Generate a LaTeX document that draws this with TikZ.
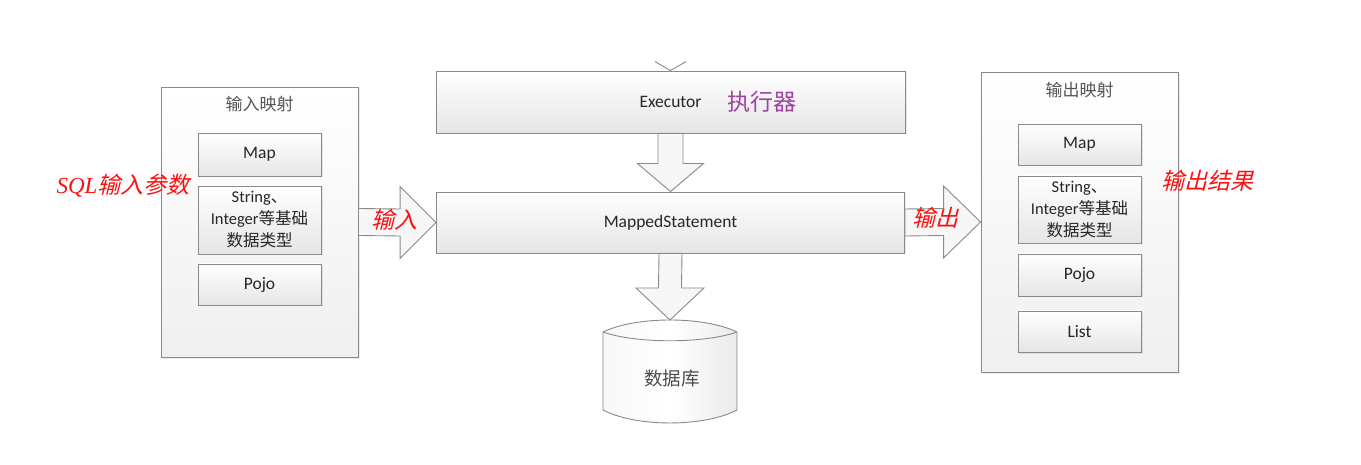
\documentclass[tikz,border=0pt]{standalone}
\usepackage{fontspec}
\setmainfont{Carlito}
\newfontfamily\cjk{Noto Sans CJK SC}
\newfontfamily\cjkit[FakeSlant=0.25]{Noto Sans CJK SC}
\newfontfamily\serifit{Liberation Serif}
\usetikzlibrary{shadows,calc}
\definecolor{edge}{HTML}{8A8A8A}
\definecolor{lblred}{HTML}{FF1010}
\definecolor{lblpurple}{HTML}{A040A0}
\definecolor{titlegray}{HTML}{555555}
\begin{document}
\begin{tikzpicture}[x=1pt,y=-1pt,
  box/.style={draw=edge, line width=0.9pt, top color=white, bottom color=black!10,
    drop shadow={opacity=0.18,shadow xshift=1.5pt,shadow yshift=-1.5pt},
    inner sep=0pt, font=\fontsize{17.5}{20}\selectfont, text=black!85, align=center},
  container/.style={draw=edge, line width=0.9pt, top color=white, bottom color=black!6,
    drop shadow={opacity=0.15,shadow xshift=1.5pt,shadow yshift=-1.5pt}, inner sep=0pt},
  inbox/.style={box, minimum width=123pt},
  blockarrow/.style={draw=edge, line width=0.9pt, fill=black!3, line join=miter},
  title/.style={font=\cjk\fontsize{17}{20}\selectfont, text=titlegray},
  redlbl/.style={font=\cjkit\fontsize{23}{26}\selectfont, text=lblred},
  strtext/.style={font=\fontsize{16.5}{22}\selectfont},
]
\useasboundingbox (0,0) rectangle (1361,465);
\fill[white] (0,0) rectangle (1361,465);

% left container
\node[container, minimum width=197pt, minimum height=270pt] (lin) at (259.5,222) {};
\node[title] (lintitle) at (259.5,104) {输入映射};
\node[inbox, minimum height=43pt] (lmap) at (259.5,154.5) {Map};
\node[inbox, minimum height=68pt, strtext] (lstr) at (259.5,220) {String{\cjk 、}\\Integer{\cjk 等基础}\\{\cjk 数据类型}};
\node[inbox, minimum height=41pt] (lpojo) at (259.5,284.5) {Pojo};

% right container
\node[container, minimum width=197pt, minimum height=300pt] (rout) at (1079.5,222) {};
\node[title] (routtitle) at (1079.5,90) {输出映射};
\node[inbox, minimum height=41pt] (rmap) at (1079.5,144.5) {Map};
\node[inbox, minimum height=67pt, strtext] (rstr) at (1079.5,209.5) {String{\cjk 、}\\Integer{\cjk 等基础}\\{\cjk 数据类型}};
\node[inbox, minimum height=42pt] (rpojo) at (1079.5,275) {Pojo};
\node[inbox, minimum height=41pt] (rlist) at (1079.5,331.5) {List};

% executor and mapped statement
\node[box, minimum width=469pt, minimum height=62pt] (exec) at (670.5,102) {Executor};
\node[font=\cjk\fontsize{23}{26}\selectfont, text=lblpurple] (execlbl) at (762,102) {执行器};
\node[box, minimum width=468pt, minimum height=61pt] (ms) at (670.5,222.5) {MappedStatement};

% incoming arrow tip at top (cropped)
\coordinate (toptip) at (exec.north);
\draw[edge, line width=0.9pt] ($(toptip)+(-15.5,-9)$) -- (toptip) -- ($(toptip)+(15.5,-9)$);

% down arrow exec -> ms
\draw[blockarrow] ($(exec.south)+(-12.5,0)$) -- ($(exec.south)+(12.5,0)$) -- ($(ms.north)+(12.5,-28)$)
  -- ($(ms.north)+(33,-28)$) -- (ms.north) -- ($(ms.north)+(-33,-28)$) -- ($(ms.north)+(-12.5,-28)$) -- cycle;

% database cylinder
\coordinate (dbtop) at (670,320);
\draw[edge, line width=0.9pt, left color=black!3, right color=black!8, middle color=white]
  (603,332) .. controls (636,316) and (704,316) .. (737,332) -- (737,410)
  .. controls (704,427.3) and (636,427.3) .. (603,410) -- cycle;
\draw[edge, line width=0.9pt] (603,332) .. controls (636,343.7) and (704,343.7) .. (737,332);
\node[font=\cjk\fontsize{18.5}{22}\selectfont, text=black!70] (db) at (672,379) {数据库};

% down arrow ms -> db
\draw[blockarrow] ($(ms.south)+(-11.5,0)$) -- ($(ms.south)+(11.5,0)$) -- ($(dbtop)+(11.5,-32)$)
  -- ($(dbtop)+(34,-32)$) -- (dbtop) -- ($(dbtop)+(-34,-32)$) -- ($(dbtop)+(-11.5,-32)$) -- cycle;

% input arrow lin -> ms
\draw[blockarrow] ($(lin.east)+(0,-13.5)$) -- ($(ms.west)+(-36,-13.5)$) -- ($(ms.west)+(-36,-36)$)
  -- (ms.west) -- ($(ms.west)+(-36,36)$) -- ($(ms.west)+(-36,13.5)$) -- ($(lin.east)+(0,13.5)$) -- cycle;
% output arrow ms -> rout
\draw[blockarrow] ($(ms.east)+(0,-13.5)$) -- ($(rout.west)+(-37,-13.5)$) -- ($(rout.west)+(-37,-36)$)
  -- (rout.west) -- ($(rout.west)+(-37,36)$) -- ($(rout.west)+(-37,13.5)$) -- ($(ms.east)+(0,13.5)$) -- cycle;

% red labels
\node[redlbl] (inlbl) at (394,220) {输入};
\node[redlbl] (outlbl) at (935,218) {输出};
\node[redlbl] (sqllbl) at (123,186) {{\serifit\itshape SQL}输入参数};
\node[redlbl] (reslbl) at (1207,181) {输出结果};
\end{tikzpicture}
\end{document}
